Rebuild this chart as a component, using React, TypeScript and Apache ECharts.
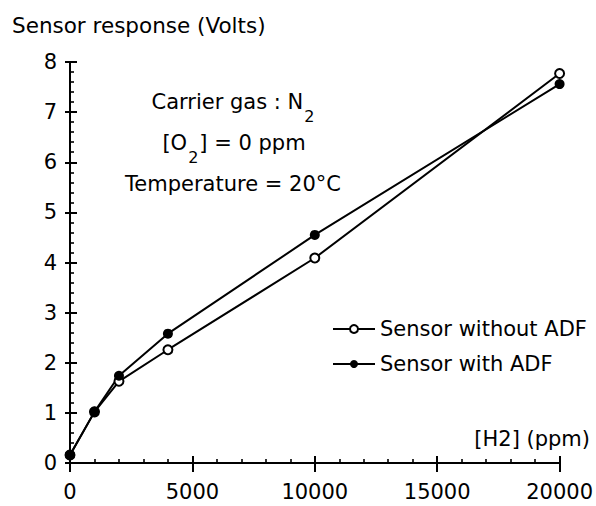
import React, { useEffect, useRef } from "react";
import * as echarts from "echarts";

const h2Ppm = [0, 1000, 2000, 4000, 10000, 20000];
const withoutADF = [0.16, 1.02, 1.63, 2.26, 4.09, 7.77];
const withADF = [0.16, 1.02, 1.74, 2.58, 4.55, 7.56];
const xTicks = { min: 0, max: 20000, interval: 5000 };
const yTicks = { min: 0, max: 8, interval: 1 };
const seriesNames = ["Sensor without ADF", "Sensor with ADF"];

const FONT = "DejaVu Sans";

export default function App() {
  const ref = useRef<HTMLDivElement>(null);
  useEffect(() => {
    if (!ref.current) return;
    const chart = echarts.init(ref.current, null, { renderer: "svg" });
    chart.setOption({
      animation: false,
      backgroundColor: "#fff",
      grid: { left: 70, right: 33, top: 62, bottom: 43 },
      xAxis: [
        {
          type: "value", min: xTicks.min, max: xTicks.max, interval: xTicks.interval,
          position: "bottom", splitLine: { show: false },
          axisLine: { show: true, onZero: false, lineStyle: { color: "#000", width: 2 } },
          axisTick: { show: true, inside: true, length: 7, lineStyle: { color: "#000", width: 2 } },
          minorTick: { show: true, splitNumber: 5, length: 4, lineStyle: { color: "#000", width: 1.6 } },
          axisLabel: { color: "#000", fontSize: 21, fontFamily: FONT, margin: 18, formatter: (v: number) => String(v) },
        },
        {
          type: "value", min: xTicks.min, max: xTicks.max, interval: xTicks.interval,
          position: "bottom", offset: 0, splitLine: { show: false },
          axisLine: { show: false, onZero: false },
          axisTick: { show: true, inside: false, length: 9, lineStyle: { color: "#000", width: 2 } },
          axisLabel: { show: false },
        },
      ],
      yAxis: [
        {
          type: "value", min: yTicks.min, max: yTicks.max, interval: yTicks.interval,
          position: "left", splitLine: { show: false },
          axisLine: { show: true, onZero: false, lineStyle: { color: "#000", width: 2 } },
          axisTick: { show: true, inside: true, length: 7, lineStyle: { color: "#000", width: 2 } },
          minorTick: { show: true, splitNumber: 5, length: 4, lineStyle: { color: "#000", width: 1.6 } },
          axisLabel: { color: "#000", fontSize: 21, fontFamily: FONT, margin: 13 },
        },
        {
          type: "value", min: yTicks.min, max: yTicks.max, interval: yTicks.interval,
          position: "left", offset: 0, splitLine: { show: false },
          axisLine: { show: false, onZero: false },
          axisTick: { show: true, inside: false, length: 5, lineStyle: { color: "#000", width: 2 } },
          axisLabel: { show: false },
        },
      ],
      legend: {
        orient: "vertical",
        left: 327,
        top: 313,
        itemWidth: 42,
        itemHeight: 10,
        itemGap: 13,
        textStyle: { color: "#000", fontSize: 21, fontFamily: FONT, lineHeight: 22 },
        data: seriesNames,
      },
      series: [
        {
          name: seriesNames[0],
          type: "line",
          xAxisIndex: 0,
          yAxisIndex: 0,
          data: h2Ppm.map((x, i) => [x, withoutADF[i]]),
          symbol: "emptyCircle",
          symbolSize: 9,
          itemStyle: { color: "#000", borderWidth: 1.6 },
          lineStyle: { color: "#000", width: 2 },
        },
        {
          name: seriesNames[1],
          type: "line",
          xAxisIndex: 0,
          yAxisIndex: 0,
          data: h2Ppm.map((x, i) => [x, withADF[i]]),
          symbol: "circle",
          symbolSize: 10,
          itemStyle: { color: "#000" },
          lineStyle: { color: "#000", width: 2 },
        },
      ],
      graphic: [
        {
          type: "text", x: 12, y: 25,
          style: { text: "Sensor response (Volts)", fontSize: 21.5, fontFamily: FONT, fill: "#000", align: "left", verticalAlign: "middle" },
        },
        {
          type: "text", x: 590, y: 439,
          style: { text: "[H2] (ppm)", fontSize: 21, fontFamily: FONT, fill: "#000", align: "right", verticalAlign: "middle" },
        },
        {
          type: "text", x: 233, y: 102,
          style: {
            text: "{a|Carrier gas : N}{s|2}",
            fill: "#000", align: "center", verticalAlign: "middle",
            rich: {
              a: { fontSize: 21, fontFamily: FONT, fill: "#000", lineHeight: 24 },
              s: { fontSize: 16, fontFamily: FONT, fill: "#000", lineHeight: 17, padding: [28, 0, 0, 1] },
            },
          },
        },
        {
          type: "text", x: 234, y: 143,
          style: {
            text: "{a|[O}{s|2}{a|] = 0 ppm}",
            fill: "#000", align: "center", verticalAlign: "middle",
            rich: {
              a: { fontSize: 21, fontFamily: FONT, fill: "#000", lineHeight: 24 },
              s: { fontSize: 16, fontFamily: FONT, fill: "#000", lineHeight: 17, padding: [28, 1, 0, 1] },
            },
          },
        },
        {
          type: "text", x: 233, y: 184,
          style: { text: "Temperature = 20°C", fontSize: 21, fontFamily: FONT, fill: "#000", align: "center", verticalAlign: "middle" },
        },
      ],
    });
    return () => chart.dispose();
  }, []);
  return (
    <div
      ref={ref}
      style={{ position: "fixed", left: 0, top: 0, width: 596, height: 506 }}
    />
  );
}
